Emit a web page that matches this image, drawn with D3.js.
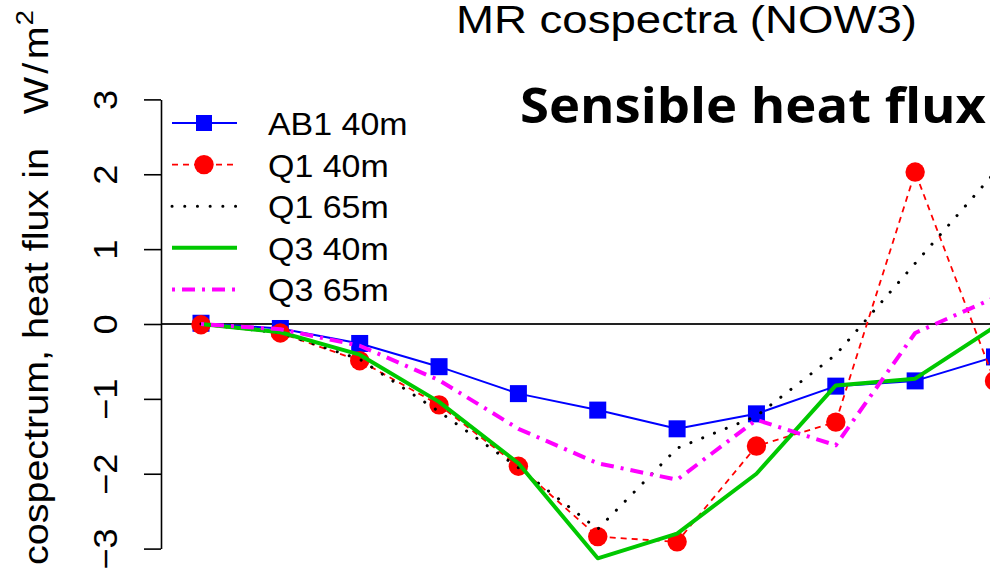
<!DOCTYPE html>
<html>
<head>
<meta charset="utf-8">
<script src="https://cdn.jsdelivr.net/npm/d3@7"></script>
<style>
  body { margin: 0; background: #fff; }
  svg { display: block; }
  .rtext { font-family: "Liberation Sans", Arial, Helvetica, sans-serif; fill: #000; }
  .caption { font-family: "Open Sans", "Lato", sans-serif; font-weight: 700; fill: #000; }
</style>
</head>
<body>
<svg id="chart" width="990" height="570"></svg>
<script>
// Multiresolution scale index (x position of each point)
const scaleIndex = [1, 2, 3, 4, 5, 6, 7, 8, 9, 10, 11];

// Cospectrum values, heat flux in W/m^2
const ab1_40m = [0.01, -0.06, -0.26, -0.57, -0.93, -1.15, -1.40, -1.20, -0.83, -0.76, -0.44];
const q1_40m  = [-0.01, -0.12, -0.49, -1.08, -1.90, -2.84, -2.91, -1.63, -1.31, 2.03, -0.76];
const q1_65m  = [0.00, -0.12, -0.47, -1.17, -1.92, -2.74, -1.66, -1.23, -0.41, 0.81, 2.02];
const q3_40m  = [0.00, -0.11, -0.41, -1.04, -1.86, -3.13, -2.80, -2.00, -0.82, -0.73, -0.04];
const q3_65m  = [0.00, -0.07, -0.29, -0.75, -1.40, -1.86, -2.08, -1.28, -1.62, -0.12, 0.35];

const seriesNames = ["AB1 40m", "Q1 40m", "Q1 65m", "Q3 40m", "Q3 65m"];
const yTicks = [-3, -2, -1, 0, 1, 2, 3];

const titleText = "MR cospectra (NOW3)";
const overlayText = "Sensible heat flux";

// Drawing styles per series, in drawing order
const styles = [
  { values: ab1_40m, color: "#0000ff", width: 2,   dash: null,       symbol: "square" },
  { values: q1_40m,  color: "#ff0000", width: 1.8, dash: "6,5",      symbol: "circle" },
  { values: q1_65m,  color: "#000000", width: 3,   dash: "0.1,12.6", symbol: null, cap: "round" },
  { values: q3_40m,  color: "#00c800", width: 4,   dash: null,       symbol: null },
  { values: q3_65m,  color: "#ff00ff", width: 4,   dash: "3,7,13,7", symbol: null }
];

const svg = d3.select("#chart");

const x = d3.scaleLinear().domain([1, 11]).range([201, 994.5]);
const y = d3.scaleLinear().domain([-3, 3]).range([548.6, 99.4]);
const plotLeft = 161;

// Stretch text along its own direction by a factor
function stretch(sel, k) {
  sel.each(function () {
    const len = this.getComputedTextLength();
    d3.select(this).attr("textLength", len * k).attr("lengthAdjust", "spacingAndGlyphs");
  });
}

// Zero reference line
svg.append("line")
  .attr("x1", plotLeft).attr("x2", 990)
  .attr("y1", y(0)).attr("y2", y(0))
  .attr("stroke", "#222").attr("stroke-width", 2);

// Y axis
const yAxis = d3.axisLeft(y).tickValues(yTicks).tickSize(17).tickSizeOuter(0)
  .tickFormat(d3.format("d"));
const gy = svg.append("g").attr("transform", `translate(${plotLeft},0)`).call(yAxis);
gy.select(".domain").attr("stroke", "#000").attr("stroke-width", 1.6);
gy.selectAll(".tick line").attr("stroke", "#000").attr("stroke-width", 1.6);
gy.selectAll(".tick text")
  .attr("class", "rtext")
  .attr("x", null).attr("dy", null)
  .attr("transform", "translate(-44,0) rotate(-90)")
  .attr("text-anchor", "middle")
  .attr("font-size", 33);
stretch(gy.selectAll(".tick text"), 1.1);

// Y axis title
const ylab = svg.append("text")
  .attr("class", "rtext")
  .attr("font-size", 35)
  .attr("text-anchor", "start");
ylab.append("tspan").text("cospectrum, heat flux in");
ylab.append("tspan").attr("dx", 30).text("W");
ylab.append("tspan").attr("dx", 3).text("/");
ylab.append("tspan").attr("dx", 3).text("m");
ylab.append("tspan").attr("font-size", 24).attr("dy", -15).attr("dx", 1).text("2");
{
  const w = ylab.node().getBBox().width;
  const k = 555 / w;
  ylab.attr("transform", `translate(48,565) rotate(-90) scale(${k},1)`);
}

// Series lines
const line = d3.line().x((d, i) => x(scaleIndex[i])).y(d => y(d));
styles.forEach(s => {
  svg.append("path")
    .datum(s.values)
    .attr("d", line)
    .attr("fill", "none")
    .attr("stroke", s.color)
    .attr("stroke-width", s.width)
    .attr("stroke-dasharray", s.dash)
    .attr("stroke-linecap", s.cap || "butt")
    .attr("stroke-linejoin", "round");
  if (s.symbol === "square") {
    svg.selectAll(null).data(s.values).enter().append("rect")
      .attr("x", (d, i) => x(scaleIndex[i]) - 8.5)
      .attr("y", d => y(d) - 8.5)
      .attr("width", 17).attr("height", 17)
      .attr("fill", s.color);
  } else if (s.symbol === "circle") {
    svg.selectAll(null).data(s.values).enter().append("circle")
      .attr("cx", (d, i) => x(scaleIndex[i]))
      .attr("cy", d => y(d))
      .attr("r", 9.7)
      .attr("fill", s.color);
  }
});

// Legend
const legend = svg.append("g");
styles.forEach((s, i) => {
  const cy = 123 + i * 41.6;
  legend.append("line")
    .attr("x1", 172).attr("x2", 237).attr("y1", cy).attr("y2", cy)
    .attr("stroke", s.color)
    .attr("stroke-width", s.width)
    .attr("stroke-dasharray", s.dash)
    .attr("stroke-linecap", s.cap || "butt");
  if (s.symbol === "square") {
    legend.append("rect").attr("x", 204 - 8).attr("y", cy - 8)
      .attr("width", 16).attr("height", 16).attr("fill", s.color);
  } else if (s.symbol === "circle") {
    legend.append("circle").attr("cx", 204).attr("cy", cy).attr("r", 9.7).attr("fill", s.color);
  }
  legend.append("text")
    .attr("class", "rtext")
    .attr("x", 268).attr("y", cy + 12)
    .attr("font-size", 32)
    .text(seriesNames[i]);
});
stretch(legend.selectAll("text"), 1.06);

// Plot title
svg.append("text")
  .attr("class", "rtext")
  .attr("x", 456).attr("y", 33)
  .attr("font-size", 38)
  .attr("textLength", 461).attr("lengthAdjust", "spacingAndGlyphs")
  .text(titleText);

// Bold overlay caption
svg.append("text")
  .attr("class", "caption")
  .attr("x", 520).attr("y", 123)
  .attr("font-size", 49)
  .attr("textLength", 466).attr("lengthAdjust", "spacingAndGlyphs")
  .text(overlayText);
</script>
</body>
</html>
